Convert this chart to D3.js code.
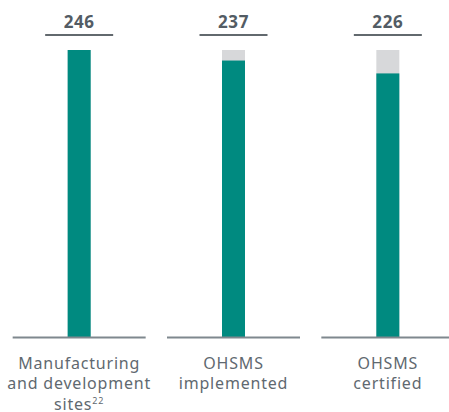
<!DOCTYPE html>
<html>
<head>
<meta charset="utf-8">
<script src="https://cdn.jsdelivr.net/npm/d3@7"></script>
<style>
  html, body { margin: 0; padding: 0; background: #fff; }
  svg { display: block; }
</style>
</head>
<body>
<svg id="chart" width="449" height="412"></svg>
<script>
// Sites with an occupational health & safety management system
const categories = ["Manufacturing and development sites", "OHSMS implemented", "OHSMS certified"];
const labelLines = [["Manufacturing", "and development", "sites"], ["OHSMS", "implemented"], ["OHSMS", "certified"]];
const values = [246, 237, 226];
const totalSites = 246;

const width = 449, height = 412;
const svg = d3.select("#chart");

const x = d3.scaleBand()
  .domain(categories)
  .range([2, 465])
  .paddingInner(0)
  .paddingOuter(0);

const y = d3.scaleLinear()
  .domain([0, totalSites])
  .range([338, 50]);

const barW = 23;
const lineW = 133;
const cx = d => x(d) + x.bandwidth() / 2;

const teal = "#008a80";
const grey = "#d7d8da";
const textCol = "#5f6970";
const font = "'Noto Sans', 'Open Sans', sans-serif";

const g = svg.selectAll("g.cat")
  .data(categories.map((c, i) => ({ c, v: values[i], lines: labelLines[i] })))
  .join("g")
  .attr("class", "cat");

// background bar: total sites
g.append("rect")
  .attr("x", d => cx(d.c) - barW / 2)
  .attr("width", barW)
  .attr("y", y(totalSites))
  .attr("height", y(0) - y(totalSites))
  .attr("fill", grey);

// value bar
g.append("rect")
  .attr("x", d => cx(d.c) - barW / 2)
  .attr("width", barW)
  .attr("y", d => y(d.v))
  .attr("height", d => y(0) - y(d.v))
  .attr("fill", teal);

// baseline
g.append("line")
  .attr("x1", d => cx(d.c) - lineW / 2)
  .attr("x2", d => cx(d.c) + lineW / 2)
  .attr("y1", y(0) - 0.5)
  .attr("y2", y(0) - 0.5)
  .attr("stroke", "#7f888e")
  .attr("stroke-width", 2);

// value rule and number above
const topW = 68;
g.append("line")
  .attr("x1", d => cx(d.c) - topW / 2)
  .attr("x2", d => cx(d.c) + topW / 2)
  .attr("y1", 35)
  .attr("y2", 35)
  .attr("stroke", "#62696e")
  .attr("stroke-width", 2);

g.append("text")
  .attr("x", d => cx(d.c))
  .attr("y", 27.5)
  .attr("text-anchor", "middle")
  .attr("font-family", font)
  .attr("font-weight", 700)
  .attr("font-size", 17)
  .attr("letter-spacing", 0.6)
  .attr("fill", "#535c64")
  .text(d => d.v);

// category labels
const lab = g.append("text")
  .attr("text-anchor", "middle")
  .attr("font-family", font)
  .attr("font-size", 16)
  .attr("letter-spacing", 0.8)
  .attr("fill", textCol);

lab.each(function(d) {
  const t = d3.select(this);
  d.lines.forEach((ln, i) => {
    t.append("tspan")
      .attr("x", cx(d.c))
      .attr("y", 368.5 + i * 20.5)
      .text(ln);
    if (d.c === categories[0] && i === d.lines.length - 1) {
      t.append("tspan")
        .attr("font-size", 9)
        .attr("dy", -6)
        .text("22");
    }
  });
});
</script>
</body>
</html>
